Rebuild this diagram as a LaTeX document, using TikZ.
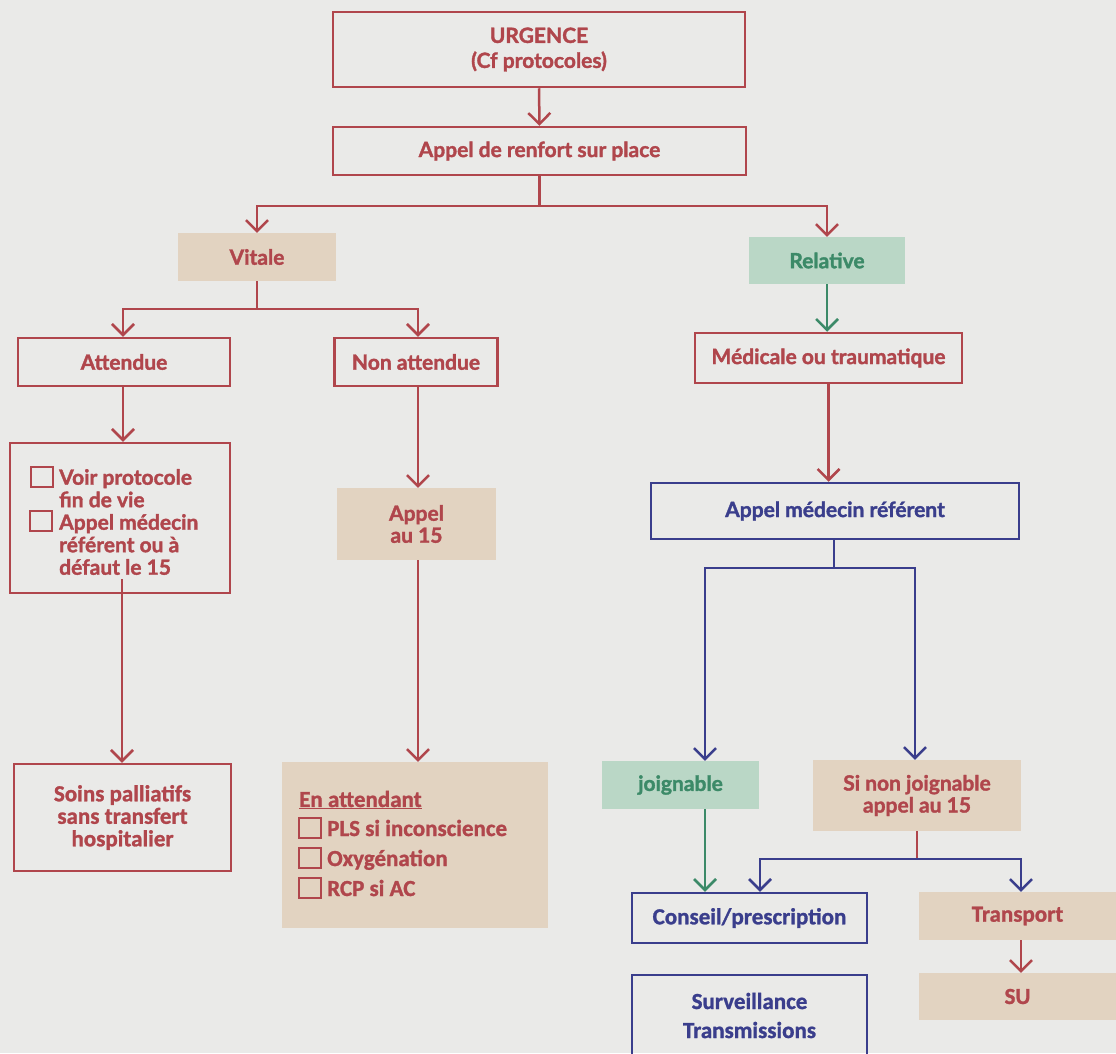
\documentclass[tikz,border=0pt]{standalone}
\usepackage{fontspec}
\setmainfont{Lato}[BoldFeatures={FakeBold=1.6}]
\newfontfamily\calib{Carlito}[BoldFeatures={FakeBold=1.2}]
\usetikzlibrary{arrows.meta,calc}
\definecolor{rouge}{RGB}{176,70,76}
\definecolor{beigef}{RGB}{226,211,193}
\definecolor{vertf}{RGB}{186,215,198}
\definecolor{vertt}{RGB}{60,138,104}
\definecolor{bleu}{RGB}{58,62,140}
\definecolor{fond}{RGB}{234,234,232}
\tikzset{
  lbl/.style={font=\bfseries\fontsize{21}{22}\selectfont, align=center, inner sep=0pt},
  clbl/.style={font=\calib\bfseries\fontsize{23}{22.5}\selectfont, align=center, inner sep=0pt},
  redbox/.style={lbl, draw=rouge, line width=2.5pt, text=rouge},
  bluebox/.style={lbl, draw=bleu, line width=2.5pt, text=bleu},
  beigebox/.style={lbl, fill=beigef, text=rouge},
  greenbox/.style={lbl, fill=vertf, text=vertt},
  chk/.style={draw=rouge, line width=2pt, minimum width=22pt, minimum height=20pt, inner sep=0pt},
  rline/.style={draw=rouge, line width=2.5pt},
  bline/.style={draw=bleu, line width=2.5pt},
  gline/.style={draw=vertt, line width=2.5pt},
  arr/.style={-{Straight Barb[length=11pt,width=22pt]}},
}
\begin{document}
\begin{tikzpicture}[x=1pt,y=-1pt]
\fill[fond] (0,0) rectangle (1116,1053);
\useasboundingbox (0,0) rectangle (1116,1053);

% top
\node[redbox, minimum width=412pt, minimum height=75pt, font=\bfseries\fontsize{21}{25}\selectfont] (urg) at (539,49.5) {URGENCE\\(Cf protocoles)};
\node[redbox, minimum width=413pt, minimum height=48pt] (renf) at (539.5,151) {Appel de renfort sur place};

% level 2
\node[beigebox, minimum width=158pt, minimum height=48pt] (vit) at (257,257) {Vitale};
\node[greenbox, minimum width=156pt, minimum height=47pt] (rel) at (827,260.5) {Relative};

% left branch
\node[redbox, minimum width=212pt, minimum height=48pt] (att) at (124,362) {Attendue};
\node[redbox, minimum width=163pt, minimum height=48pt] (non) at (416,362) {Non attendue};

\node[redbox, minimum width=220pt, minimum height=150pt] (voir) at (120,518) {};
\node[chk] (vc1) at (42,477) {};
\node[chk] (vc2) at (41,521) {};
\node[lbl, text=rouge, align=left, anchor=west, font=\bfseries\fontsize{21}{22.5}\selectfont] (voirtxt) at (59,522)
  {Voir protocole\\fin de vie\\Appel médecin\\référent ou à\\défaut le 15};
\coordinate (vs) at (122,579);

\node[beigebox, minimum width=159pt, minimum height=72pt] (a15) at (416.5,524) {Appel\\au 15};

\node[redbox, clbl, minimum width=217pt, minimum height=107pt] (soins) at (122.5,817.5)
  {Soins palliatifs\\sans transfert\\hospitalier};

\node[beigebox, minimum width=266pt, minimum height=166pt] (enatt) at (415,845) {};
\node[clbl, text=rouge, anchor=west] (entitle) at (299,800) {\underline{En attendant}};
\node[chk] (ec1) at (310,828) {};
\node[chk] (ec2) at (310,858) {};
\node[chk] (ec3) at (310,888) {};
\node[clbl, text=rouge, align=left, anchor=west, font=\calib\bfseries\fontsize{23}{30}\selectfont] (entxt) at (327,858)
  {PLS si inconscience\\Oxygénation\\RCP si AC};

% right branch
\node[redbox, minimum width=267pt, minimum height=50pt] (med) at (828.5,358) {Médicale ou traumatique};
\node[bluebox, minimum width=368pt, minimum height=56pt] (amed) at (835,511) {Appel médecin référent};

\node[greenbox, minimum width=157pt, minimum height=48pt] (joign) at (680.5,785) {joignable};
\node[beigebox, minimum width=208pt, minimum height=71pt] (sinon) at (917,795.5) {Si non joignable\\appel au 15};

\node[bluebox, clbl, minimum width=235pt, minimum height=50pt] (cons) at (749.5,918) {Conseil/prescription};
\node[bluebox, clbl, minimum width=235pt, minimum height=81pt, font=\calib\bfseries\fontsize{23}{29}\selectfont] (surv) at (749.5,1015.5) {Surveillance\\Transmissions};

\node[beigebox, clbl, text=rouge, minimum width=197pt, minimum height=48pt] (trans) at (1017.5,916) {Transport};
\node[beigebox, clbl, text=rouge, minimum width=197pt, minimum height=47pt] (su) at (1017.5,996.5) {SU};

% connectors
\draw[rline, arr] (urg.south) -- (renf.north);
\coordinate (s1) at (539.5,206);
\draw[rline] (renf.south) -- (s1);
\draw[rline, arr] (s1) -| (vit.north);
\draw[rline, arr] (s1) -| (rel.north);

\coordinate (s2) at (257,309);
\coordinate (s2l) at (123,309);
\coordinate (s2r) at (418,309);
\draw[rline] (vit.south) -- (s2);
\draw[rline, arr] (s2) -- (s2l) -- (s2l |- att.north);
\draw[rline, arr] (s2) -- (s2r) -- (s2r |- non.north);

\draw[rline, arr] (att.south -| s2l) -- (s2l |- voir.north);
\draw[rline, arr] (vs) -- (vs |- soins.north);
\draw[rline, arr] (non.south -| s2r) -- (s2r |- a15.north);
\draw[rline, arr] (a15.south -| s2r) -- (s2r |- enatt.north);

\draw[gline, arr] (rel.south) -- (rel.south |- med.north);
\draw[rline, arr] (med.south) -- (med.south |- amed.north);

\coordinate (s3) at (834,568);
\coordinate (bl) at (705,568);
\coordinate (br) at (915,568);
\draw[bline] (amed.south -| s3) -- (s3);
\draw[bline, arr] (s3) -- (bl) -- (bl |- joign.north);
\draw[bline, arr] (s3) -- (br) -- (br |- sinon.north);

\draw[gline, arr] (joign.south -| bl) -- (bl |- cons.north);

\coordinate (s4) at (917,859);
\coordinate (cl) at (760,859);
\coordinate (cr) at (1021,859);
\draw[rline] (sinon.south) -- (s4);
\draw[bline, arr] (s4) -- (cl) -- (cl |- cons.north);
\draw[bline, arr] (s4) -- (cr) -- (cr |- trans.north);
\draw[rline, arr] (trans.south -| cr) -- (cr |- su.north);
\end{tikzpicture}
\end{document}
